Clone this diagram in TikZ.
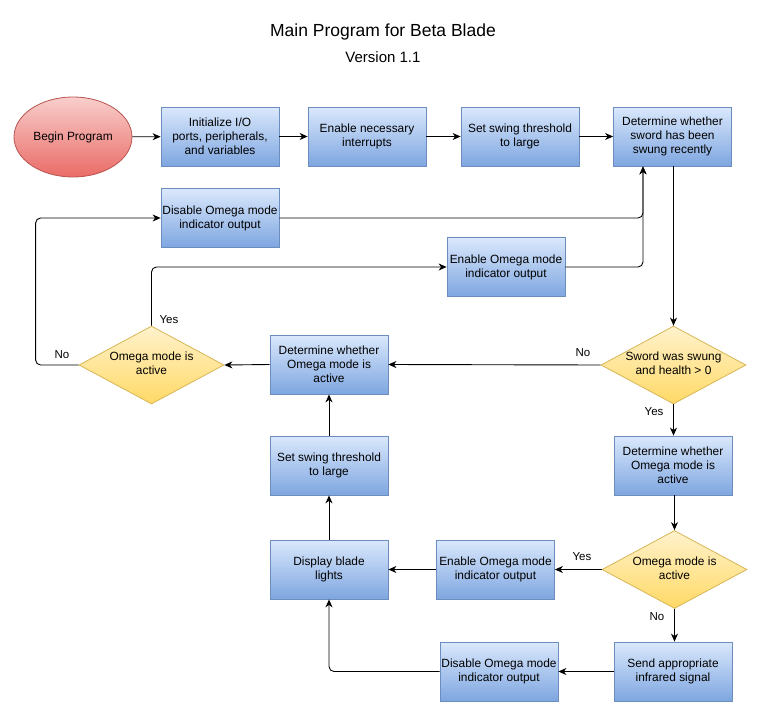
\documentclass[tikz,border=0pt]{standalone}
\usepackage{fontspec}
\setmainfont{Liberation Sans}
\usetikzlibrary{shapes.geometric,arrows.meta}
\definecolor{bTop}{HTML}{DAE8FC}
\definecolor{bBot}{HTML}{7EA6E0}
\definecolor{bLine}{HTML}{6C8EBF}
\definecolor{rTop}{HTML}{F8CECC}
\definecolor{rBot}{HTML}{EA6B66}
\definecolor{rLine}{HTML}{B85450}
\definecolor{yTop}{HTML}{FFF2CC}
\definecolor{yBot}{HTML}{FFD966}
\definecolor{yLine}{HTML}{D6B656}
\newcommand\dlab[1]{\makebox[0pt]{\smash{\raisebox{-3pt}{\begin{tabular}{@{}c@{}}#1\end{tabular}}}}}
\tikzset{
  box/.style={rectangle, draw=bLine, top color=bTop, bottom color=bBot, line width=0.8pt,
    minimum width=118pt, minimum height=59pt, inner sep=0pt, align=center,
    font=\fontsize{11.9}{14}\selectfont},
  startnode/.style={ellipse, draw=rLine, top color=rTop, bottom color=rBot, line width=0.8pt,
    minimum width=118pt, minimum height=80pt, inner sep=0pt, align=center,
    font=\fontsize{11.9}{14}\selectfont},
  decision/.style={diamond, draw=yLine, top color=yTop, bottom color=yBot, line width=0.8pt,
    minimum width=145pt, minimum height=78pt, inner sep=0pt,
    font=\fontsize{11.9}{14}\selectfont},
  arr/.style={draw=black, line width=0.9pt, rounded corners=5pt,
    -{Stealth[length=8pt,width=7pt,inset=2.5pt]}},
  lbl/.style={font=\fontsize{11.5}{13}\selectfont, inner sep=0pt}
}
\begin{document}
\begin{tikzpicture}[x=1pt,y=-1pt]
\useasboundingbox (0,0) rectangle (766,728);
\node[font=\fontsize{17.5}{20}\selectfont] (title) at (383,32) {Main Program for Beta Blade};
\node[font=\fontsize{15}{18}\selectfont] (ver) at (383,57) {Version 1.1};

\node[startnode] (begin) at (73,137) {Begin Program};
\node[box] (init) at (220,136.5) {Initialize I/O\\ports, peripherals,\\and variables};
\node[box] (intr) at (367,136.5) {Enable necessary\\interrupts};
\node[box] (thr1) at (520,136.5) {Set swing threshold\\to large};
\node[box] (swung) at (672.5,136.5) {Determine whether\\sword has been\\swung recently};

\node[box] (dis1) at (220,218) {Disable Omega mode\\indicator output};
\node[box] (en1) at (506,267) {Enable Omega mode\\indicator output};

\node[decision] (d1) at (673.5,365) {\dlab{Sword was swung\\and health > 0}};
\node[box] (detL) at (329,364.5) {Determine whether\\Omega mode is\\active};
\node[decision] (dL) at (151.5,365) {\dlab{Omega mode is\\active}};

\node[box] (detR) at (673,465.5) {Determine whether\\Omega mode is\\active};
\node[box] (thr2) at (329,465.5) {Set swing threshold\\to large};

\node[decision] (d2) at (674.5,569.5) {\dlab{Omega mode is\\active}};
\node[box] (en2) at (495.5,569.5) {Enable Omega mode\\indicator output};
\node[box] (disp) at (329,569.5) {Display blade\\lights};

\node[box] (send) at (673,671.5) {Send appropriate\\infrared signal};
\node[box] (dis2) at (499,671.5) {Disable Omega mode\\indicator output};

% connectors
\draw[arr] (begin) -- (init);
\draw[arr] (init) -- (intr);
\draw[arr] (intr) -- (thr1);
\draw[arr] (thr1) -- (swung);
\draw[arr] (dis1.east) -| ([xshift=-29.5pt]swung.south);
\draw[arr] (en1.east) -| ([xshift=-29.5pt]swung.south);
\draw[arr] (swung.south -| d1.north) -- (d1.north);
\draw[arr] (d1.west) -- (detL.east);
\draw[arr] (detL.west) -- (dL.east);
\draw[arr] (dL.north) |- (en1.west);
\draw[arr] (dL.west) -- ++(-43,0) |- (dis1.west);
\draw[arr] (d1.south) -- (detR.north -| d1.south);
\draw[arr] (detR.south -| d2.north) -- (d2.north);
\draw[arr] (d2.west) -- (en2.east);
\draw[arr] (en2.west) -- (disp.east);
\draw[arr] (d2.south) -- (send.north -| d2.south);
\draw[arr] (send.west) -- (dis2.east);
\draw[arr] (dis2.west) -| (disp.south);
\draw[arr] (disp.north) -- (thr2.south);
\draw[arr] (thr2.north) -- (detL.south);

% labels
\node[lbl] (lno1) at (583,353) {No};
\node[lbl] (lyes1) at (654,412) {Yes};
\node[lbl] (lyes2) at (582,557) {Yes};
\node[lbl] (lno2) at (657,617) {No};
\node[lbl] (lyes3) at (169,320) {Yes};
\node[lbl] (lno3) at (62,355) {No};
\end{tikzpicture}
\end{document}
